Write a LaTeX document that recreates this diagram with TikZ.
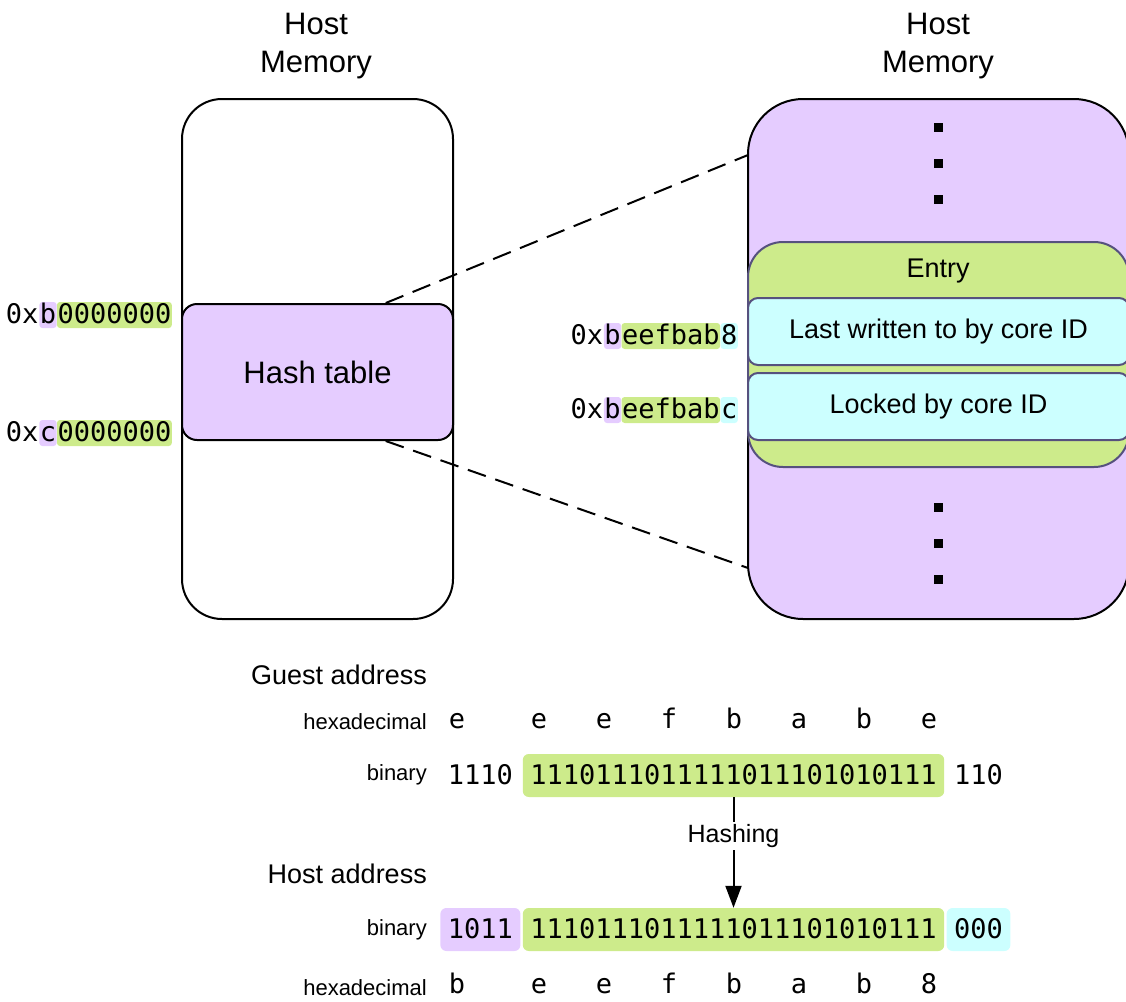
\documentclass[tikz,border=0pt]{standalone}
\usepackage{fontspec}
\setmainfont{Liberation Sans}
\setmonofont{DejaVu Sans Mono}
\usetikzlibrary{arrows.meta,calc}

\definecolor{memPurple}{HTML}{E5CCFF}
\definecolor{entGreen}{HTML}{CDEB8B}
\definecolor{cellCyan}{HTML}{CCFFFF}
\definecolor{entEdge}{HTML}{56517E}

\newcommand\titlefont{\fontsize{31}{38}\selectfont}
\newcommand\labelfont{\fontsize{27}{32}\selectfont}
\newcommand\tinyfont{\fontsize{22}{26}\selectfont}
\newcommand\hashfont{\fontsize{25}{30}\selectfont}
\newcommand\codefont{\ttfamily\fontsize{27}{32}\selectfont}

\tikzset{
  title/.style={font=\titlefont, align=center, inner sep=0pt},
  membox/.style={draw=black, line width=2pt, rounded corners=#1, inner sep=0pt},
  entrybox/.style={draw=entEdge, line width=2pt, rounded corners=#1, inner sep=0pt},
  sidelabel/.style={anchor=east, inner sep=0pt, font=\labelfont},
  rowlabel/.style={anchor=east, inner sep=0pt, font=\tinyfont},
  hl/.style={anchor=east, font=\codefont, inner xsep=0.5pt, inner ysep=0pt,
             text height=21pt, text depth=5pt, rounded corners=3pt},
  bits/.style={font=\codefont, inner xsep=7.5pt, inner ysep=0pt,
               text height=30pt, text depth=13pt, rounded corners=6pt},
  hexch/.style={font=\codefont, inner sep=0pt, text height=20pt, text depth=6pt},
  dotmark/.style={fill=black, inner sep=0pt, minimum size=9pt},
  dashline/.style={line width=2pt, dash pattern=on 19pt off 10pt},
  flow/.style={line width=2pt, -{Triangle[length=22pt,width=16pt]}},
}

\begin{document}
\begin{tikzpicture}[x=1pt,y=-1pt]
\useasboundingbox (0,0) rectangle (1126,1001);
\clip (0,0) rectangle (1126,1001);

% ---- left: host memory with the hash table ----
\node[title] (ltitle) at (316,46) {Host\\Memory};
\node[membox=40pt, minimum width=271pt, minimum height=520pt] (lmem) at (317.5,359) {};
\node[membox=15pt, fill=memPurple, minimum width=271pt, minimum height=136pt,
      font=\titlefont] (hash) at (317.5,372) {Hash table};

% start / end addresses of the table
\node[hl, fill=entGreen] (lozero) at (172,315) {0000000};
\node[hl, fill=memPurple] (lob) at (lozero.west) {b};
\node[hl] (lox) at (lob.west) {0x};
\node[hl, fill=entGreen] (hizero) at (172,433) {0000000};
\node[hl, fill=memPurple] (hic) at (hizero.west) {c};
\node[hl] (hix) at (hic.west) {0x};

% ---- right: zoomed view of one entry ----
\node[title] (rtitle) at (938,46) {Host\\Memory};
\node[membox=55pt, fill=memPurple, minimum width=381pt, minimum height=520pt] (rmem) at (938.5,359) {};
\foreach \y [count=\i] in {127,163,199} \node[dotmark] (dtop\i) at (938,\y) {};
\foreach \y [count=\i] in {507,543,579} \node[dotmark] (dbot\i) at (938,\y) {};

\node[entrybox=35pt, fill=entGreen, minimum width=381pt, minimum height=225pt] (entry) at (938.5,354.5) {};
\node[inner sep=0pt, font=\labelfont] (entrylbl) at (938,271) {Entry};
\node[entrybox=10pt, fill=cellCyan, minimum width=381pt, minimum height=67pt,
      font=\labelfont] (cellw) at (938.5,331.5) {Last written to by core ID};
\node[entrybox=10pt, fill=cellCyan, minimum width=381pt, minimum height=67pt,
      font=\labelfont] (celll) at (938.5,406.5) {Locked by core ID};

% field addresses
\node[hl, fill=cellCyan] (wlow) at (738,336) {8};
\node[hl, fill=entGreen] (wmid) at (wlow.west) {eefbab};
\node[hl, fill=memPurple] (whigh) at (wmid.west) {b};
\node[hl] (wx) at (whigh.west) {0x};
\node[hl, fill=cellCyan] (llow) at (738,410) {c};
\node[hl, fill=entGreen] (lmid) at (llow.west) {eefbab};
\node[hl, fill=memPurple] (lhigh) at (lmid.west) {b};
\node[hl] (lx) at (lhigh.west) {0x};

% zoom lines from the table to the entry view
\coordinate (hashTop) at ($(hash.north west)!0.75!(hash.north east)$);
\coordinate (hashBot) at ($(hash.south west)!0.75!(hash.south east)$);
\coordinate (zoomTop) at (748,155);
\coordinate (zoomBot) at (748,568);
\draw[dashline] (hashTop) -- (zoomTop);
\draw[dashline] (hashBot) -- (zoomBot);

% ---- bottom: address translation ----
\node[sidelabel] (guest) at (427,675) {Guest address};
\node[rowlabel] (ghexlbl) at (427,722) {hexadecimal};
\foreach \c/\x [count=\i] in {e/457,e/539,e/604,f/669,b/734,a/799,b/864,e/929}
  \node[hexch] (ghex\i) at (\x,721) {\c};
\node[rowlabel] (gbinlbl) at (427,775) {binary};
\node[bits, fill=entGreen] (gmid) at (733.5,775.5) {1110111011111011101010111};
\node[bits, anchor=east] (ghigh) at ($(gmid.west)+(-2,0)$) {1110};
\node[bits, anchor=west] (glow) at ($(gmid.east)+(2,0)$) {110};

\node[sidelabel] (host) at (427,874) {Host address};
\node[rowlabel] (hbinlbl) at (427,930) {binary};
\node[bits, fill=entGreen] (hmid) at (733.5,929.5) {1110111011111011101010111};
\node[bits, fill=memPurple, anchor=east] (hhigh) at ($(hmid.west)+(-2,0)$) {1011};
\node[bits, fill=cellCyan, anchor=west] (hlow) at ($(hmid.east)+(2,0)$) {000};
\node[rowlabel] (hhexlbl) at (427,988) {hexadecimal};
\foreach \c/\x [count=\i] in {b/457,e/539,e/604,f/669,b/734,a/799,b/864,8/929}
  \node[hexch] (hhex\i) at (\x,986) {\c};

\draw[flow] (gmid.south) -- (hmid.north)
  node[pos=0.35, fill=white, inner sep=2pt, font=\hashfont] (hashing) {Hashing};
\end{tikzpicture}
\end{document}
